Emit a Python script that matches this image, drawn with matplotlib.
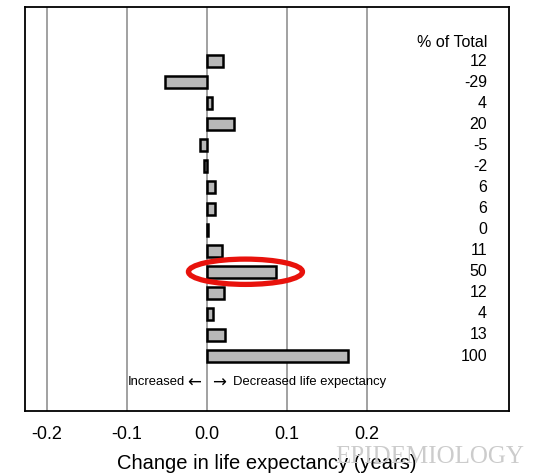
import matplotlib.pyplot as plt
from matplotlib.patches import Ellipse

# change in life expectancy (years) per row, top to bottom
changes = [0.020, -0.052, 0.006, 0.034, -0.009, -0.004, 0.010, 0.010,
           0.001, 0.019, 0.086, 0.021, 0.007, 0.022, 0.176]
pct_labels = ['12', '-29', '4', '20', '-5', '-2', '6', '6',
              '0', '11', '50', '12', '4', '13', '100']
xticks = [-0.2, -0.1, 0.0, 0.1, 0.2]
highlight_row = 10

plt.rcParams['font.family'] = ['Liberation Sans', 'DejaVu Sans']

fig = plt.figure(figsize=(5.52, 4.73), dpi=100)
ax = fig.add_axes([0.0453, 0.131, 0.877, 0.854])

rows = list(range(len(changes)))
for x in xticks:
    ax.axvline(x, color='#9a9a9a', lw=1.3, zorder=0)

ax.barh(rows, changes, height=0.57, color='#b8b8b8', edgecolor='black',
        linewidth=1.8, zorder=2)

ax.set_xlim(-0.2275, 0.3775)
ax.set_ylim(16.61, -2.56)

for r, lab in zip(rows, pct_labels):
    ax.text(0.350, r, lab, ha='right', va='center', fontsize=11.5)
ax.text(0.350, -0.9, '% of Total', ha='right', va='center', fontsize=11.5)

# direction note under the bars, arrows drawn with DejaVu glyphs
ya = 15.25
ax.text(-0.028, ya, 'Increased', ha='right', va='center', fontsize=9.4)
ax.text(-0.025, ya, '\u2190', ha='left', va='center', fontsize=12,
        family='DejaVu Sans')
ax.text(0.006, ya, '\u2192', ha='left', va='center', fontsize=12,
        family='DejaVu Sans')
ax.text(0.032, ya, 'Decreased life expectancy', ha='left', va='center',
        fontsize=9.4)

ell = Ellipse((changes[highlight_row] / 2 + 0.005, highlight_row), width=0.1425,
              height=1.2, fill=False, edgecolor='#e8120c', lw=3.8, zorder=3)
ax.add_patch(ell)

ax.set_xticks(xticks)
ax.set_xticklabels(['-0.2', '-0.1', '0.0', '0.1', '0.2'], fontsize=13)
ax.tick_params(axis='x', length=0, pad=11)
ax.set_yticks([])
for s in ax.spines.values():
    s.set_linewidth(1.3)
ax.set_xlabel('Change in life expectancy (years)', fontsize=14.5, labelpad=8)

fig.text(0.607, 0.022, 'EPIDEMIOLOGY', color='#cccccc', fontsize=18,
         family='Liberation Serif', ha='left', va='baseline', zorder=0)

fig.savefig('out.png', dpi=100)
